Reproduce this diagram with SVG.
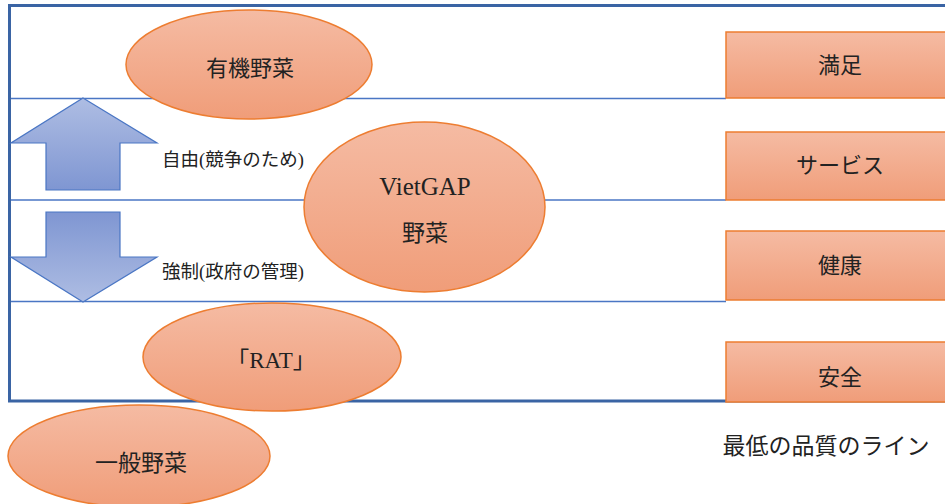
<svg xmlns="http://www.w3.org/2000/svg" width="945" height="504" viewBox="0 0 945 504">
<defs>
<linearGradient id="og" x1="0" y1="0" x2="0" y2="1">
<stop offset="0" stop-color="#f5bba3"/>
<stop offset="1" stop-color="#f09d79"/>
</linearGradient>
<linearGradient id="bg" x1="0" y1="0" x2="0" y2="1">
<stop offset="0" stop-color="#aebde3"/>
<stop offset="1" stop-color="#7f96d2"/>
</linearGradient>
<linearGradient id="bg2" x1="0" y1="0" x2="0" y2="1">
<stop offset="0" stop-color="#7f96d2"/>
<stop offset="1" stop-color="#aebde3"/>
</linearGradient>
<style>
.sh{fill:url(#og);stroke:#ed7d31;stroke-width:1.5}
.ln{stroke:#4a76c4;stroke-width:1.5;fill:none}
.ar{stroke:#4a76c4;stroke-width:1.2}
.t{font-family:"Liberation Serif","Noto Sans CJK JP",serif;fill:#222;text-anchor:middle;dominant-baseline:central}
.l{font-family:"Liberation Serif","Noto Sans CJK JP",serif;fill:#222;font-size:18.5px;dominant-baseline:central}
</style>
</defs>
<g id="frame">
<path d="M945 5.5 H9.5 V401 H945" fill="none" stroke="#3a64a4" stroke-width="3"/>
</g>
<g id="connectors">
<line class="ln" x1="11" y1="98.5" x2="726" y2="98.5"/>
<line class="ln" x1="11" y1="200" x2="726" y2="200"/>
<line class="ln" x1="11" y1="301.5" x2="726" y2="301.5"/>
</g>
<g id="arrow-up">
<polygon class="ar" fill="url(#bg)" points="83,98 157,143 120,143 120,190 46,190 46,143 11,143"/>
</g>
<g id="arrow-down">
<polygon class="ar" fill="url(#bg2)" points="46,212 120,212 120,257 157,257 83,302 11,257 46,257"/>
</g>
<g id="label-free"><text class="l" x="162" y="160">自由(競争のため)</text></g>
<g id="label-force"><text class="l" x="162" y="272">強制(政府の管理)</text></g>
<g id="organic">
<ellipse class="sh" cx="249" cy="64.5" rx="123" ry="54.5"/>
<text class="t" x="250" y="68" font-size="22">有機野菜</text>
</g>
<g id="vietgap">
<ellipse class="sh" cx="424.5" cy="207" rx="120.5" ry="85"/>
<text class="t" x="425" y="186" font-size="25">VietGAP</text>
<text class="t" x="425" y="233" font-size="23">野菜</text>
</g>
<g id="rat">
<ellipse class="sh" cx="272" cy="357" rx="129" ry="54"/>
<text class="t" x="271" y="360" font-size="23">「RAT」</text>
</g>
<g id="general">
<ellipse class="sh" cx="139" cy="456" rx="131" ry="51"/>
<text class="t" x="141" y="463" font-size="23">一般野菜</text>
</g>
<g id="manzoku">
<rect class="sh" x="726" y="32" width="225" height="66"/>
<text class="t" x="840" y="65" font-size="22">満足</text>
</g>
<g id="service">
<rect class="sh" x="726" y="132" width="225" height="68"/>
<text class="t" x="840" y="165" font-size="22">サービス</text>
</g>
<g id="kenkou">
<rect class="sh" x="726" y="231" width="225" height="69"/>
<text class="t" x="840" y="265" font-size="22">健康</text>
</g>
<g id="anzen">
<rect class="sh" x="726" y="342" width="225" height="60"/>
<text class="t" x="840" y="377" font-size="22">安全</text>
</g>
<g id="min-line"><text class="t" x="826" y="446" font-size="23">最低の品質のライン</text></g>
</svg>
